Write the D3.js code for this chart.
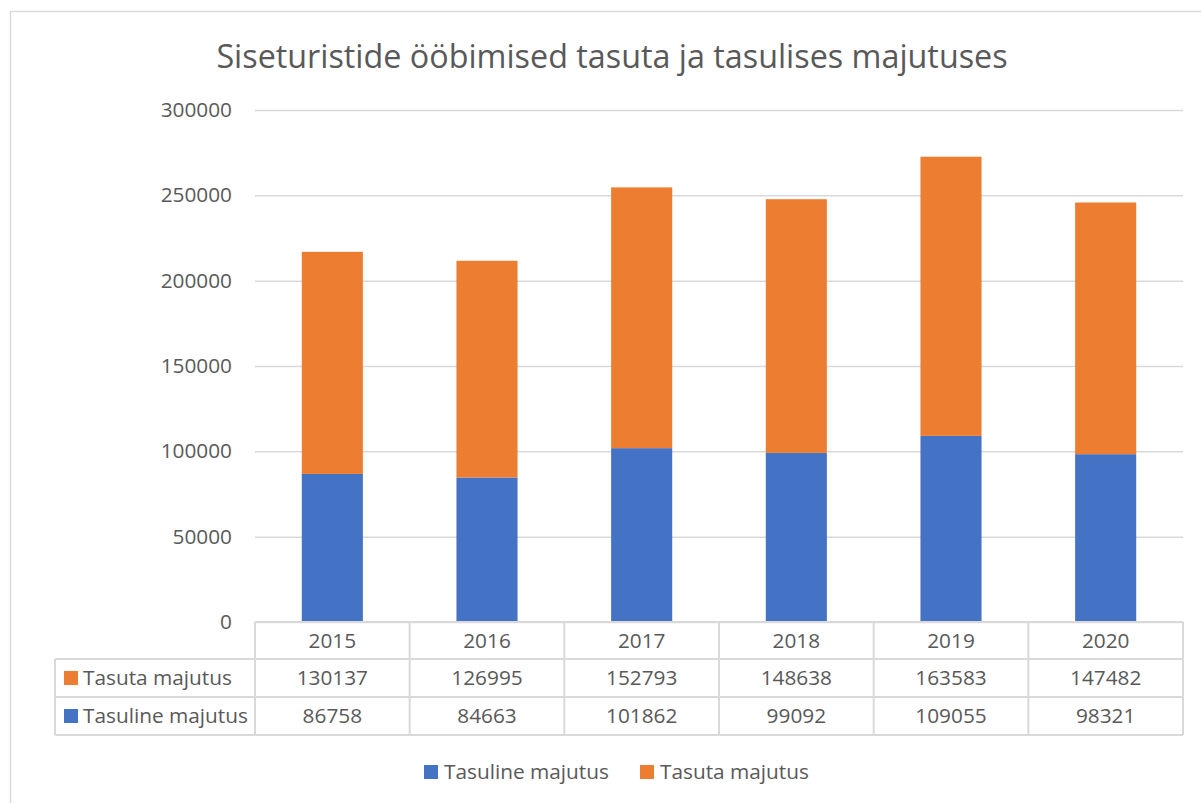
<!DOCTYPE html>
<html>
<head>
<meta charset="utf-8">
<script src="https://cdn.jsdelivr.net/npm/d3@7/dist/d3.min.js"></script>
<style>
  html, body { margin: 0; padding: 0; background: #fff; }
  svg { display: block; font-family: "Open Sans", sans-serif; }
</style>
</head>
<body>
<svg id="chart" width="1201" height="803"></svg>
<script>
"use strict";

// ── data ─────────────────────────────────────────────────────────────────────
const years    = ["2015", "2016", "2017", "2018", "2019", "2020"];
const tasuline = [86758, 84663, 101862, 99092, 109055, 98321];
const tasuta   = [130137, 126995, 152793, 148638, 163583, 147482];
const yTicks   = [0, 50000, 100000, 150000, 200000, 250000, 300000];
const title    = "Siseturistide ööbimised tasuta ja tasulises majutuses";

const seriesNames  = ["Tasuline majutus", "Tasuta majutus"];
const seriesColors = ["#4472C4", "#ED7D31"];

// ── layout ───────────────────────────────────────────────────────────────────
const TEXT = "#595959";
const GRID = "#d9d9d9";
const FS = 20.8;
const plotL = 255, plotR = 1183, plotT = 110, plotB = 622;
const rowY = [622, 659, 697, 735];
const labelColL = 55;

const svg = d3.select("#chart");

// outer chart border
svg.append("rect")
  .attr("x", 10.5).attr("y", 11.5)
  .attr("width", 1220).attr("height", 820)
  .attr("fill", "none").attr("stroke", GRID).attr("stroke-width", 1.5);

// title
svg.append("text")
  .attr("x", 612).attr("y", 68)
  .attr("text-anchor", "middle")
  .attr("fill", TEXT).attr("font-size", 32.3)
  .text(title);

const x = d3.scaleBand().domain(years).range([plotL, plotR]).padding(0);
const y = d3.scaleLinear().domain([0, 300000]).range([plotB, plotT]);
const barW = x.bandwidth() * 0.395;

// gridlines + y labels
svg.append("g")
  .attr("transform", `translate(${plotL},0)`)
  .call(d3.axisLeft(y).tickValues(yTicks).tickSize(-(plotR - plotL)).tickPadding(23).tickFormat(d3.format("d")))
  .call(ax => {
    ax.select(".domain").remove();
    ax.selectAll(".tick line").attr("stroke", GRID).attr("stroke-width", 1.5);
    ax.selectAll("text")
      .attr("fill", TEXT).attr("font-size", FS)
      .attr("font-family", "Open Sans, sans-serif");
  });

// stacked bars
const stackData = years.map((yr, i) => ({ year: yr, s0: tasuline[i], s1: tasuta[i] }));
const stacked = d3.stack().keys(["s0", "s1"])(stackData);

svg.append("g").selectAll("g").data(stacked).enter().append("g")
  .attr("fill", (d, i) => seriesColors[i])
  .selectAll("rect").data(d => d).enter().append("rect")
  .attr("x", d => x(d.data.year) + (x.bandwidth() - barW) / 2)
  .attr("y", d => y(d[1]))
  .attr("width", barW)
  .attr("height", d => y(d[0]) - y(d[1]));

// ── data table ───────────────────────────────────────────────────────────────
const tbl = svg.append("g")
  .attr("stroke", GRID).attr("stroke-width", 2).attr("fill", "none");

// horizontal lines
tbl.append("line").attr("x1", plotL).attr("x2", plotR).attr("y1", rowY[0]).attr("y2", rowY[0]);
rowY.slice(1).forEach(yy => {
  tbl.append("line").attr("x1", labelColL).attr("x2", plotR).attr("y1", yy).attr("y2", yy);
});
// vertical lines
tbl.append("line").attr("x1", labelColL).attr("x2", labelColL).attr("y1", rowY[1]).attr("y2", rowY[3]);
years.forEach(yr => {
  tbl.append("line").attr("x1", x(yr)).attr("x2", x(yr)).attr("y1", rowY[0]).attr("y2", rowY[3]);
});
tbl.append("line").attr("x1", plotR).attr("x2", plotR).attr("y1", rowY[0]).attr("y2", rowY[3]);

const cellText = svg.append("g")
  .attr("fill", TEXT).attr("font-size", FS).attr("text-anchor", "middle");

// header years
cellText.selectAll(".yr").data(years).enter().append("text")
  .attr("x", d => x(d) + x.bandwidth() / 2)
  .attr("y", (rowY[0] + rowY[1]) / 2 + 7)
  .text(d => d);

// table rows: Tasuta first, then Tasuline
const tableRows = [
  { name: seriesNames[1], color: seriesColors[1], values: tasuta },
  { name: seriesNames[0], color: seriesColors[0], values: tasuline },
];

tableRows.forEach((row, r) => {
  const cy = (rowY[r + 1] + rowY[r + 2]) / 2;
  svg.append("rect")
    .attr("x", 64).attr("y", cy - 7).attr("width", 14).attr("height", 14)
    .attr("fill", row.color);
  svg.append("text")
    .attr("x", 83).attr("y", cy + 7)
    .attr("fill", TEXT).attr("font-size", FS)
    .text(row.name);
  cellText.selectAll(null).data(row.values).enter().append("text")
    .attr("x", (d, i) => x(years[i]) + x.bandwidth() / 2)
    .attr("y", cy + 7)
    .text(d => d);
});

// ── legend ───────────────────────────────────────────────────────────────────
const legendItems = [
  { name: seriesNames[0], color: seriesColors[0], x: 424 },
  { name: seriesNames[1], color: seriesColors[1], x: 640 },
];
const lg = svg.append("g");
legendItems.forEach(it => {
  lg.append("rect")
    .attr("x", it.x).attr("y", 765).attr("width", 14).attr("height", 14)
    .attr("fill", it.color);
  lg.append("text")
    .attr("x", it.x + 20).attr("y", 779)
    .attr("fill", TEXT).attr("font-size", FS)
    .text(it.name);
});
</script>
</body>
</html>
